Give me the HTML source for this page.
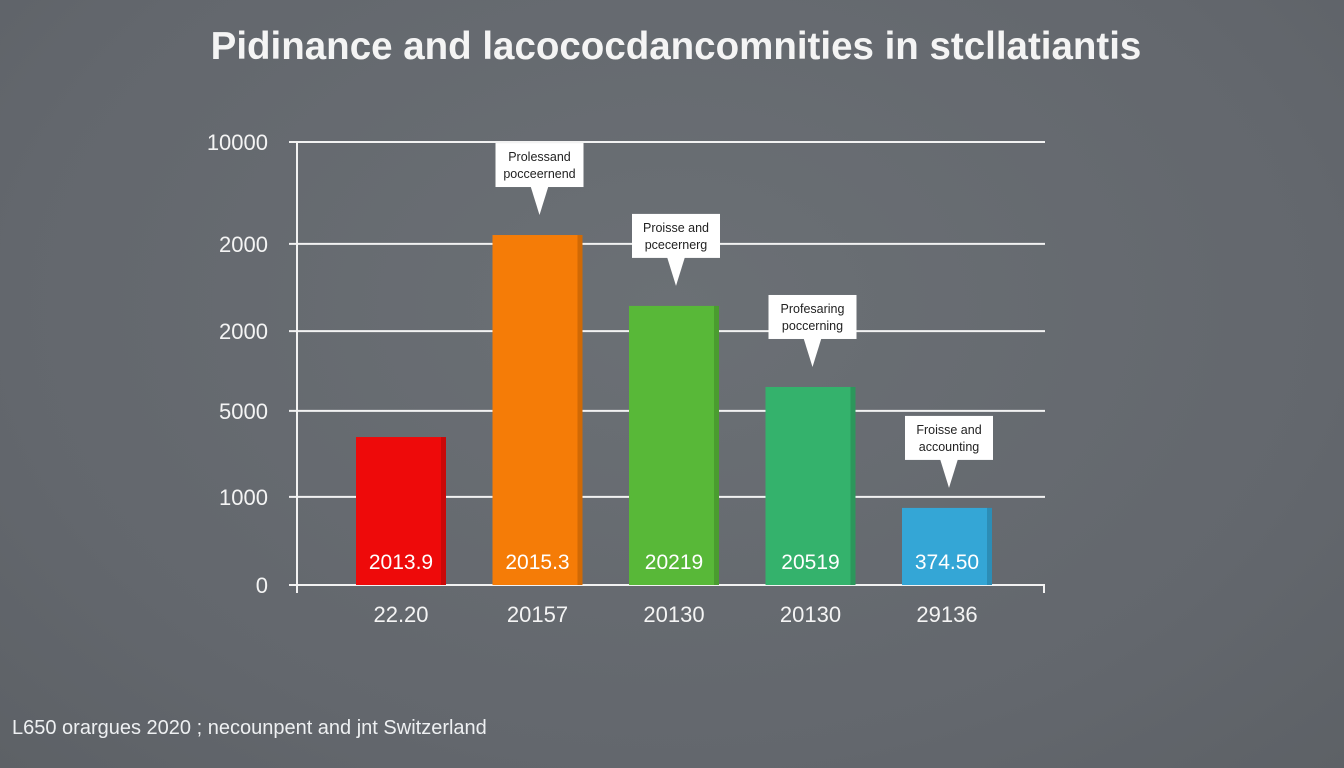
<!DOCTYPE html>
<html><head><meta charset="utf-8"><style>
html,body{margin:0;padding:0;}
body{width:1344px;height:768px;overflow:hidden;background:radial-gradient(ellipse at 50% 40%,#6b7075 0%,#63676d 70%,#5d6166 100%);font-family:"Liberation Sans",sans-serif;}
svg{display:block}
</style></head><body>
<svg id="chart" width="1344" height="768" viewBox="0 0 1344 768">
<text x="676" y="59" text-anchor="middle" font-size="38.5" font-weight="bold" fill="#f4f4f4">Pidinance and lacococdancomnities in stcllatiantis</text>
<g id="grid"></g><g id="bars"></g><g id="labels"></g>
<text x="12" y="734" font-size="20" fill="#eef0f2">L650 orargues 2020 ; necounpent and jnt Switzerland</text>
</svg>
<script>
const categories=["22.20","20157","20130","20130","29136"];
const values=[33.4,79.0,63.0,44.7,17.4];
const valueLabels=["2013.9","2015.3","20219","20519","374.50"];
const colors=["#ee0a0a","#f57c07","#58b838","#34b26c","#34a6d6"];
const calloutLines=[null,["Prolessand","pocceernend"],["Proisse and","pcecernerg"],["Profesaring","poccerning"],["Froisse and","accounting"]];
const tickValues=[0,19.9,39.3,57.3,77.0,100];
const tickLabels=["0","1000","5000","2000","2000","10000"];
const NS="http://www.w3.org/2000/svg";
const y0=585,y1=142,xL=297,xR=1045;
function y(v){return y0-(v/100)*(y0-y1);}
function xc(i){return 401+136.5*i;}
const bw=90;
function mk(tag,attrs,parent,txt){const e=document.createElementNS(NS,tag);for(const k in attrs)e.setAttribute(k,attrs[k]);if(txt!=null)e.textContent=txt;parent.appendChild(e);return e;}
const grid=document.getElementById('grid'),bars=document.getElementById('bars'),labels=document.getElementById('labels');
tickValues.forEach((t,i)=>{
  const l=mk('line',{x1:xL-8,x2:xR,y1:y(t),y2:y(t),stroke:'#f2f2f2','stroke-width':2},grid);
  
  
  const tx=mk('text',{x:268,y:y(t)+8,'text-anchor':'end','font-size':22,fill:'#f4f4f4'},grid,tickLabels[i]);
  
  
});
const ax=mk('line',{x1:xL,x2:xL,y1:y1,y2:y0+8,stroke:'#f2f2f2','stroke-width':2},grid);


const rt=mk('line',{x1:xR-1,x2:xR-1,y1:y0,y2:y0+8,stroke:'#f2f2f2','stroke-width':2},grid);


values.forEach((v,i)=>{
  const x=xc(i)-bw/2,top=y(v);
  const r=mk('rect',{x:x,y:top,width:bw,height:y0-top,fill:colors[i]},bars);
  
  
  const s=mk('rect',{x:x+bw-5,y:top,width:5,height:y0-top,fill:'#000',opacity:0.15},bars);
  
  
  const vl=mk('text',{x:xc(i),y:569,'text-anchor':'middle','font-size':21,fill:'#fff'},labels,valueLabels[i]);
  
  
  const cl=mk('text',{x:xc(i),y:622,'text-anchor':'middle','font-size':22,fill:'#f4f4f4'},labels,categories[i]);
  
  
  if(calloutLines[i]){
    const tip=top-20,by=tip-72,cx=xc(i)+2;
    const g=mk('g',{},labels);
    
    
    mk('rect',{x:cx-44,y:by,width:88,height:44,fill:'#fff'},g);
    mk('polygon',{points:`${cx-9},${by+43} ${cx+9},${by+43} ${cx},${tip}`,fill:'#fff'},g);
    mk('text',{x:cx,y:by+18,'text-anchor':'middle','font-size':12.5,fill:'#222'},g,calloutLines[i][0]);
    mk('text',{x:cx,y:by+35,'text-anchor':'middle','font-size':12.5,fill:'#222'},g,calloutLines[i][1]);
  }
});
</script>
</body></html>
